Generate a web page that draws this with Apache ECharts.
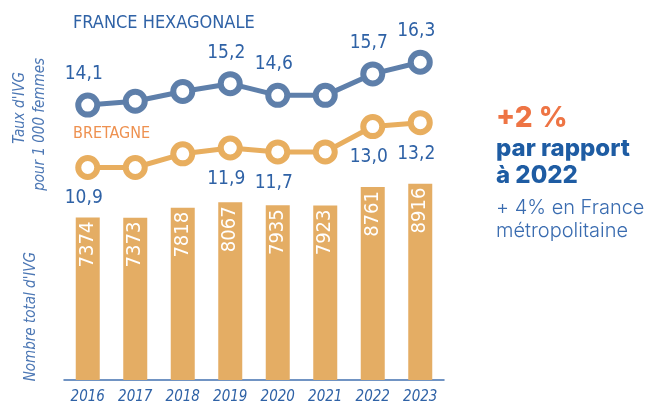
<!DOCTYPE html>
<html>
<head>
<meta charset="utf-8">
<script src="https://cdn.jsdelivr.net/npm/echarts@6/dist/echarts.min.js"></script>
<style>
  html, body { margin: 0; padding: 0; background: #fff; }
  #chart { width: 649px; height: 405px; }
</style>
</head>
<body>
<div id="chart"></div>
<script>
const years = ['2016', '2017', '2018', '2019', '2020', '2021', '2022', '2023']
const totalIvg = [7374, 7373, 7818, 8067, 7935, 7923, 8761, 8916]
const tauxFrance = [14.1, 14.3, 14.8, 15.2, 14.6, 14.6, 15.7, 16.3]
const tauxBretagne = [10.9, 10.9, 11.6, 11.9, 11.7, 11.7, 13.0, 13.2]
// points whose value is written on the picture
const labeledYears = ['2016', '2019', '2020', '2022', '2023']

const narrow = '"Liberation Sans Narrow", "DejaVu Sans Condensed", "Roboto", sans-serif'
const sans = 'Inter, "Open Sans", sans-serif'
const blueText = '#2F62A6'
const blueLine = '#5E7FAA'
const orangeLine = '#E8AE5F'
const orangeBar = '#E4AD64'

const fmt = v => v.toFixed(1).replace('.', ',')

const lineData = (values, pos) => values.map((v, i) => ({
  value: v,
  label: {
    show: labeledYears.includes(years[i]),
    position: pos,
    distance: 9,
    offset: [-4, 0],
    formatter: p => fmt(p.value),
    color: blueText,
    fontFamily: narrow,
    fontSize: 19
  }
}))

const lineStyleFor = color => ({
  type: 'line',
  yAxisIndex: 1,
  symbol: 'circle',
  symbolSize: 19,
  lineStyle: { color: color, width: 5 },
  itemStyle: { color: '#fff', borderColor: color, borderWidth: 6 },
  z: 5
})

const txt = (text, color, size, family, extra) => Object.assign({
  text: text, fill: color, fontSize: size, fontFamily: family
}, extra || {})

const rotated = { fontStyle: 'italic', align: 'right', verticalAlign: 'middle' }

const option = {
  animation: false,
  grid: { left: 64, right: 205, top: 40, bottom: 25 },
  xAxis: {
    type: 'category',
    data: years,
    axisTick: { show: false },
    axisLine: { lineStyle: { color: '#4371B0', width: 1.5 } },
    axisLabel: {
      interval: 0,
      color: blueText,
      fontFamily: narrow,
      fontStyle: 'italic',
      fontSize: 15,
      margin: 10
    }
  },
  yAxis: [
    { type: 'value', min: 0, max: 15440, show: false, splitLine: { show: false } },
    { type: 'value', min: 0, max: 17.44, show: false, splitLine: { show: false } }
  ],
  series: [
    {
      name: "Nombre total d'IVG",
      type: 'bar',
      barWidth: 24,
      data: totalIvg,
      itemStyle: { color: orangeBar },
      label: {
        show: true,
        position: 'insideTop',
        rotate: 90,
        align: 'right',
        verticalAlign: 'middle',
        distance: 4,
        color: '#fff',
        fontFamily: narrow,
        fontSize: 20
      }
    },
    Object.assign(lineStyleFor(blueLine), {
      name: 'France hexagonale',
      data: lineData(tauxFrance, 'top')
    }),
    Object.assign(lineStyleFor(orangeLine), {
      name: 'Bretagne',
      data: lineData(tauxBretagne, 'bottom')
    })
  ],
  graphic: [
    {
      type: 'text', left: 73, top: 14,
      style: txt('FRANCE HEXAGONALE', blueText, 18, narrow)
    },
    {
      type: 'text', left: 73, top: 126,
      style: txt('BRETAGNE', '#EE9150', 16, narrow)
    },
    {
      type: 'text', x: 20, y: 72, rotation: Math.PI / 2,
      style: txt("Taux d'IVG", '#4C77B4', 15, narrow, rotated)
    },
    {
      type: 'text', x: 40, y: 58, rotation: Math.PI / 2,
      style: txt('pour 1 000 femmes', '#4C77B4', 15, narrow, rotated)
    },
    {
      type: 'text', x: 31, y: 252, rotation: Math.PI / 2,
      style: txt("Nombre total d'IVG", '#4C77B4', 15, narrow, rotated)
    },
    {
      type: 'text', left: 496, top: 105,
      style: txt('+2 %', '#EE7444', 28, sans, { fontWeight: 800 })
    },
    {
      type: 'text', left: 496, top: 135,
      style: txt('par rapport\nà 2022', '#1E5CA3', 24, sans, { fontWeight: 800, lineHeight: 27 })
    },
    {
      type: 'text', left: 496, top: 196,
      style: txt('+ 4% en France\nmétropolitaine', '#3A6CB0', 20, sans, { fontWeight: 300, lineHeight: 23 })
    }
  ]
}

const myChart = echarts.init(document.getElementById('chart'))
myChart.setOption(option)
</script>
</body>
</html>
